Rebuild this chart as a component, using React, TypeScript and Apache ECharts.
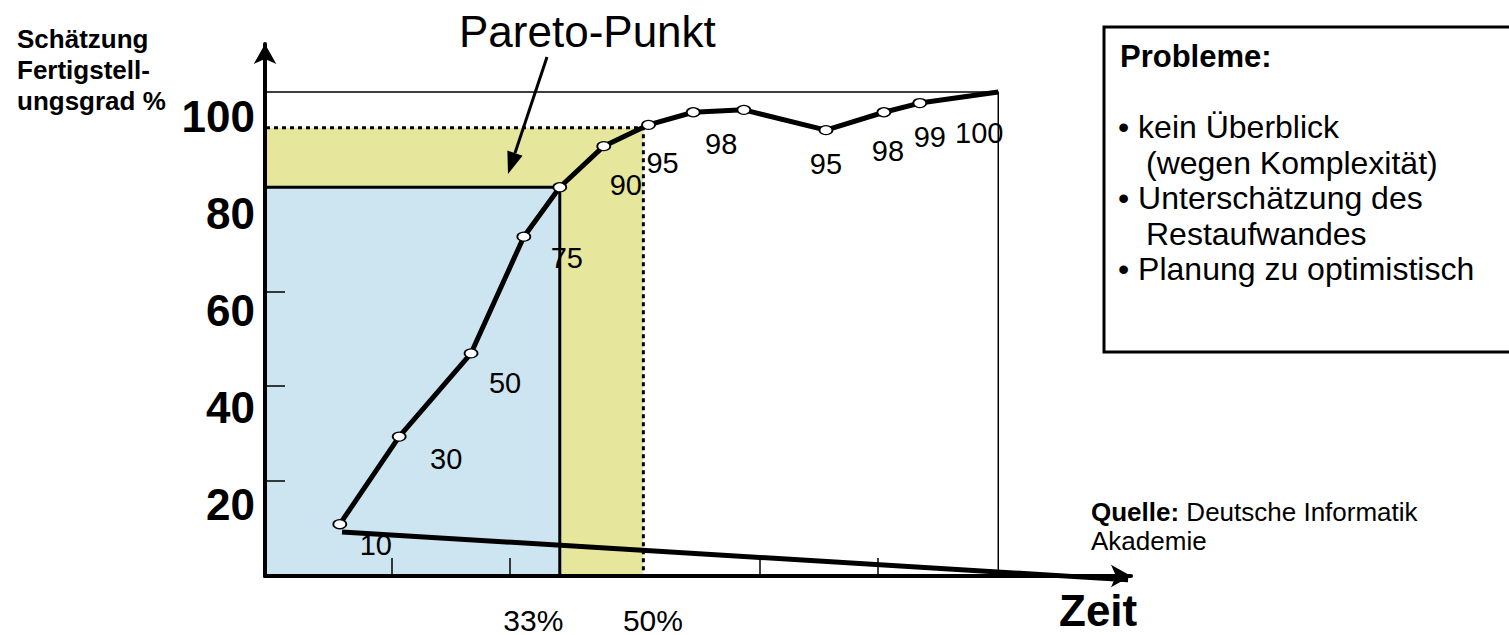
import React, { useEffect, useRef } from "react";
import * as echarts from "echarts";

// Time axis: 0 = origin, 100 = right edge of the plotted frame (in %)
const timePct = [10.2, 18.3, 28.1, 35.3, 40.2, 46.2, 52.3, 58.4, 65.3, 76.5, 84.4, 89.3, 100];
// Estimated completion degree (position of the points)
const completion = [10.7, 28.8, 46.0, 70.1, 80.3, 88.8, 93.2, 95.8, 96.3, 92.1, 95.8, 97.7, 100];
// Estimate labels written next to the points
const estimateLabels = ["10", "30", "50", "75", "", "90", "95", "98", "", "95", "98", "99", "100"];

const paretoPoint = [40.2, 80.3];
const paretoBand = [51.6, 92.6];
const frameLine = [[0, 100], [100, 100], [100, 0]];
const trendLine = [[10.5, 9.1], [117.7, -0.8]];

const yTickValues = [19.6, 39.3, 58.7];
const yTickLabels = [20, 40, 60, 80, 100];
const xTickValues = [17.3, 33.4, 67.5, 83.6];
const xTickLabels = ["33%", "50%"];
const xTickLabelValues = [36.6, 52.9];

const xAxisTitle = "Zeit";
const yAxisTitle = "Schätzung\nFertigstell-\nungsgrad %";
const paretoTitle = "Pareto-Punkt";
const problemsTitle = "Probleme:";
const problemLines = [
  "• kein Überblick",
  "(wegen Komplexität)",
  "• Unterschätzung des",
  "Restaufwandes",
  "• Planung zu optimistisch",
];

// label offsets (px) relative to each point, styling only
const labelOffsets = [
  [36, 21], [47, 22], [34, 30], [43, 21], [0, 0], [22, 39], [14, 38],
  [28, 32], [0, 0], [0, 34], [4, 39], [10, 34], [-19, 41],
];

const FONT = "Liberation Sans, Arial, Helvetica, sans-serif";
const BLUE = "#cde5f0";
const YELLOW = "#e6e69c";

export default function App() {
  const ref = useRef<HTMLDivElement>(null);
  useEffect(() => {
    if (!ref.current) return;
    const chart = echarts.init(ref.current, undefined, { renderer: "svg" });
    const last = timePct.length - 1;
    const lineData = timePct.map((x, i) => ({
      value: [x, completion[i]],
      symbolSize: i === last ? 0 : [13, 9],
      label: {
        show: estimateLabels[i] !== "",
        formatter: estimateLabels[i],
        offset: labelOffsets[i],
      },
    }));

    // arrow geometry for the Pareto annotation
    const tip = [508, 174];
    const start = [547, 57];
    const dx = tip[0] - start[0];
    const dy = tip[1] - start[1];
    const len = Math.sqrt(dx * dx + dy * dy);
    const ux = dx / len, uy = dy / len;
    const hl = 22, hw = 8;
    const bx = tip[0] - ux * hl, by = tip[1] - uy * hl;

    const option: any = {
      animation: false,
      grid: {
        left: 265,
        right: 378,
        top: 44,
        bottom: 59,
        containLabel: false,
        outerBoundsMode: "none",
      },
      xAxis: {
        type: "value",
        min: 0,
        max: 118.1,
        z: 4,
        splitLine: { show: false },
        axisLine: {
          show: true,
          symbol: ["none", "arrow"],
          symbolSize: [17, 20],
          lineStyle: { color: "#000", width: 4 },
        },
        axisTick: {
          show: true,
          inside: true,
          length: 18,
          customValues: xTickValues,
          lineStyle: { color: "#000", width: 1.5 },
        },
        axisLabel: {
          show: true,
          customValues: xTickLabelValues,
          formatter: (v: number) => {
            const i = xTickLabelValues.findIndex((p) => Math.abs(p - v) < 0.01);
            return i >= 0 ? xTickLabels[i] : "";
          },
          margin: 31,
          fontSize: 30,
          lineHeight: 26,
          color: "#000",
          fontFamily: FONT,
        },
      },
      yAxis: {
        type: "value",
        min: 0,
        max: 109.9,
        z: 4,
        splitLine: { show: false },
        axisLine: {
          show: true,
          symbol: ["none", "arrow"],
          symbolSize: [17, 20],
          lineStyle: { color: "#000", width: 4 },
        },
        axisTick: {
          show: true,
          inside: true,
          length: 20,
          customValues: yTickValues,
          lineStyle: { color: "#000", width: 1.5 },
        },
        axisLabel: {
          show: true,
          customValues: yTickLabels,
          fontSize: 44,
          fontWeight: "bold",
          color: "#000",
          fontFamily: FONT,
          margin: 10,
          verticalAlign: "top",
          lineHeight: 50,
        },
      },
      series: [
        {
          type: "line",
          data: frameLine,
          symbol: "none",
          silent: true,
          lineStyle: { color: "#000", width: 1.5 },
          z: 2,
          markArea: {
            silent: true,
            data: [
              [
                {
                  xAxis: 0,
                  yAxis: 0,
                  itemStyle: { color: YELLOW, borderColor: "#000", borderWidth: 3, borderType: [4, 4] },
                },
                { xAxis: paretoBand[0], yAxis: paretoBand[1] },
              ],
              [
                {
                  xAxis: 0,
                  yAxis: 0,
                  itemStyle: { color: BLUE, borderColor: "#000", borderWidth: 3, borderType: "solid" },
                },
                { xAxis: paretoPoint[0], yAxis: paretoPoint[1] },
              ],
            ],
          },
        },
        {
          type: "line",
          data: trendLine,
          symbol: "none",
          clip: false,
          silent: true,
          lineStyle: { color: "#000", width: 5 },
          z: 3,
        },
        {
          type: "line",
          data: lineData,
          symbol: "circle",
          symbolSize: [13, 9],
          lineStyle: { color: "#000", width: 5, join: "round" },
          itemStyle: { color: "#fff", borderColor: "#000", borderWidth: 1.5 },
          label: {
            show: true,
            position: "inside",
            fontSize: 29,
            color: "#000",
            fontFamily: FONT,
          },
          z: 5,
        },
      ],
      graphic: [
        {
          type: "text",
          x: 17,
          y: 23,
          z: 10,
          style: {
            text: yAxisTitle,
            font: `bold 26px ${FONT}`,
            lineHeight: 31,
            fill: "#000",
            verticalAlign: "top",
            align: "left",
          },
        },
        {
          type: "text",
          x: 1059,
          y: 610,
          z: 10,
          style: {
            text: xAxisTitle,
            font: `bold 44px ${FONT}`,
            lineHeight: 44,
            fill: "#000",
            verticalAlign: "middle",
            align: "left",
          },
        },
        {
          type: "text",
          x: 459,
          y: 31,
          z: 10,
          style: {
            text: paretoTitle,
            font: `44px ${FONT}`,
            fill: "#000",
            verticalAlign: "middle",
            align: "left",
          },
        },
        {
          type: "line",
          z: 10,
          shape: { x1: start[0], y1: start[1], x2: bx, y2: by },
          style: { stroke: "#000", lineWidth: 3 },
        },
        {
          type: "polygon",
          z: 10,
          shape: {
            points: [
              [tip[0], tip[1]],
              [bx - uy * hw, by + ux * hw],
              [bx + uy * hw, by - ux * hw],
            ],
          },
          style: { fill: "#000" },
        },
        {
          type: "rect",
          z: 10,
          shape: { x: 1104, y: 27, width: 430, height: 325 },
          style: { fill: "#fff", stroke: "#000", lineWidth: 3 },
        },
        {
          type: "text",
          x: 1120,
          y: 56,
          z: 11,
          style: {
            text: problemsTitle,
            font: `bold 31px ${FONT}`,
            fill: "#000",
            verticalAlign: "middle",
          },
        },
        ...problemLines.map((t, i) => ({
          type: "text",
          x: t.startsWith("•") ? 1118 : 1146,
          y: 127 + i * 35.5,
          z: 11,
          style: {
            text: t,
            font: `32px ${FONT}`,
            fill: "#000",
            verticalAlign: "middle",
          },
        })),
        {
          type: "text",
          x: 1091,
          y: 512,
          z: 10,
          style: {
            text: "{b|Quelle:} Deutsche Informatik",
            font: `26px ${FONT}`,
            fill: "#000",
            verticalAlign: "middle",
            rich: { b: { fontWeight: "bold", fontSize: 26, fontFamily: FONT } },
          },
        },
        {
          type: "text",
          x: 1091,
          y: 541,
          z: 10,
          style: {
            text: "Akademie",
            font: `26px ${FONT}`,
            fill: "#000",
            verticalAlign: "middle",
          },
        },
      ],
    };
    chart.setOption(option);
    return () => chart.dispose();
  }, []);

  return (
    <div
      ref={ref}
      style={{ position: "fixed", left: 0, top: 0, width: 1509, height: 635, background: "#fff" }}
    />
  );
}
